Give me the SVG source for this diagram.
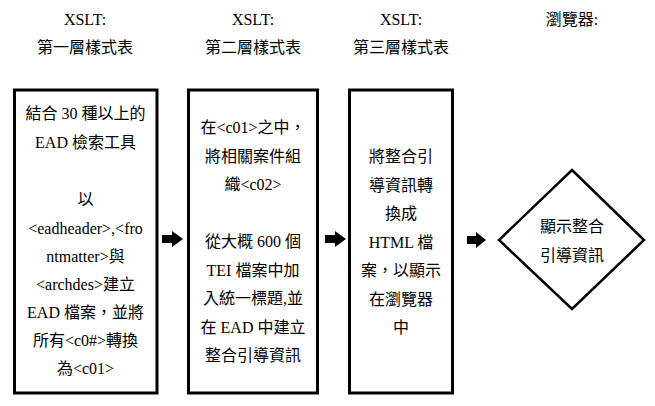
<svg xmlns="http://www.w3.org/2000/svg" width="655" height="406" viewBox="0 0 655 406">
<style>
text{font-family:"Liberation Serif","Noto Sans CJK TC",serif;font-size:16px;fill:#000;text-anchor:middle}
.box{fill:#fff;stroke:#000;stroke-width:3}
.dia{fill:#fff;stroke:#000;stroke-width:2.5;stroke-linejoin:miter}
.arr{fill:#000}
</style>
<g id="headers">
<text x="85" y="25">XSLT:</text>
<text x="85" y="53">第一層樣式表</text>
<text x="253" y="25">XSLT:</text>
<text x="253" y="53">第二層樣式表</text>
<text x="401" y="25">XSLT:</text>
<text x="401" y="53">第三層樣式表</text>
<text x="572" y="25">瀏覽器:</text>
</g>
<g id="node1">
<rect class="box" x="14.5" y="90" width="142.5" height="303"/>
<text x="85.5" y="119">結合 30 種以上的</text>
<text x="85.5" y="147.5">EAD 檢索工具</text>
<text x="85.5" y="205">以</text>
<text x="85.5" y="233.5">&lt;eadheader&gt;,&lt;fro</text>
<text x="85.5" y="261.5">ntmatter&gt;與</text>
<text x="85.5" y="290">&lt;archdes&gt;建立</text>
<text x="85.5" y="318">EAD 檔案，並將</text>
<text x="85.5" y="346">所有&lt;c0#&gt;轉換</text>
<text x="85.5" y="374">為&lt;c01&gt;</text>
</g>
<g id="node2">
<rect class="box" x="188.5" y="90" width="129" height="303"/>
<text x="253" y="133">在&lt;c01&gt;之中，</text>
<text x="253" y="161.5">將相關案件組</text>
<text x="253" y="190">織&lt;c02&gt;</text>
<text x="253" y="247">從大概 600 個</text>
<text x="253" y="275.5">TEI 檔案中加</text>
<text x="253" y="304">入統一標題,並</text>
<text x="253" y="332.5">在 EAD 中建立</text>
<text x="253" y="361">整合引導資訊</text>
</g>
<g id="node3">
<rect class="box" x="349.5" y="90" width="103" height="303"/>
<text x="401" y="162">將整合引</text>
<text x="401" y="190.5">導資訊轉</text>
<text x="401" y="219">換成</text>
<text x="401" y="247.5">HTML 檔</text>
<text x="401" y="276">案，以顯示</text>
<text x="401" y="304.5">在瀏覽器</text>
<text x="401" y="333">中</text>
</g>
<g id="node4">
<polygon class="dia" points="572,170 644,240 572,309 499,240"/>
<text x="572" y="232">顯示整合</text>
<text x="572" y="261">引導資訊</text>
</g>
<g id="connectors">
<polygon class="arr" points="162,235 172,235 172,231 183,239 172,247 172,243 162,243"/>
<polygon class="arr" points="325,235 335,235 335,231 346,239 335,247 335,243 325,243"/>
<polygon class="arr" points="467,236 476,236 476,232 486,240 476,248 476,244 467,244"/>
</g>
</svg>
